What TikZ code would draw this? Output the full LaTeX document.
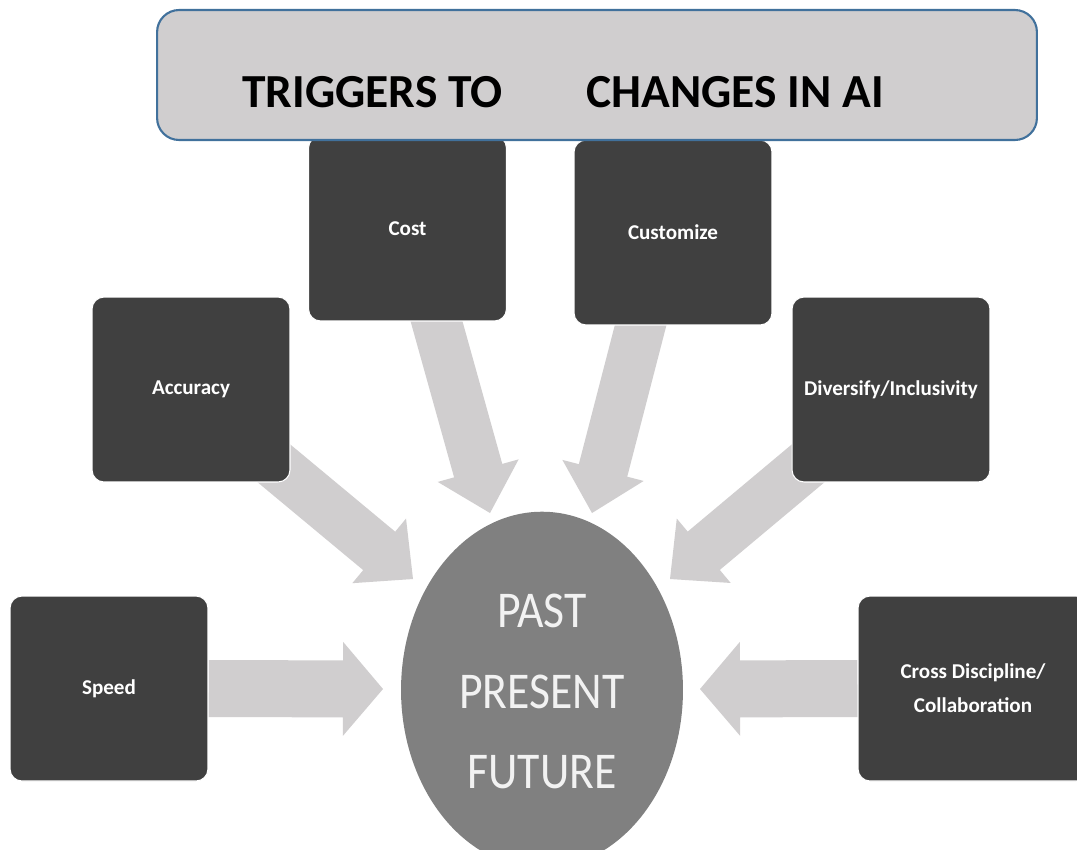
\documentclass[tikz,border=0pt]{standalone}
\usepackage{fontspec}
\setmainfont{Carlito}
\usetikzlibrary{calc,positioning,backgrounds,shapes.geometric}

\definecolor{boxgray}{HTML}{404040}
\definecolor{arrowgray}{HTML}{D0CECF}
\definecolor{coregray}{HTML}{808080}
\definecolor{titlefill}{HTML}{D0CECF}
\definecolor{titleblue}{HTML}{41719C}

\newcommand{\trigarrow}[5]{%
  \coordinate (hb) at ($(#5)!#3!(#4)$);
  \fill[arrowgray] ($(#4)!#1!90:(#5)$) -- ($(hb)!#1!90:(#5)$) -- ($(hb)!#2!90:(#5)$) -- (#5)
    -- ($(hb)!#2!-90:(#5)$) -- ($(hb)!#1!-90:(#5)$) -- ($(#4)!#1!-90:(#5)$) -- cycle;
}

\begin{document}
\begin{tikzpicture}[x=0.02cm, y=-0.02cm,
    trigger/.style={rectangle, rounded corners=0.24cm, fill=boxgray, draw=white, line width=0.6pt,
      minimum width=3.96cm, minimum height=3.7cm, inner sep=2pt, text=white, align=center,
      font=\fontsize{12}{19.4}\selectfont\bfseries},
    core/.style={ellipse, fill=coregray, minimum width=5.64cm, minimum height=6.72cm, inner sep=0pt,
      text=white!95!black, font=\fontsize{26}{46}\selectfont},
    titlebox/.style={rectangle, rounded corners=0.44cm, fill=titlefill, draw=titleblue, line width=1.2pt,
      minimum width=17.6cm, minimum height=2.6cm}]
  \useasboundingbox (0,0) rectangle (1077,849);

  \node[core] (core) at (542,690)
    {\scalebox{1}[1.13]{\begin{tabular}{@{}c@{}}PAST\\[-5.5pt]PRESENT\\[-5.5pt]FUTURE\end{tabular}}};

  \node[trigger] (cost) at (407.5,228.5) {Cost};
  \node[trigger] (customize) at (673,232.5) {Customize};
  \node[trigger] (accuracy) at (191,389.5) {Accuracy};
  \node[trigger] (diversify) at (891,389.5) {Diversify/Inclusivity};
  \node[trigger] (speed) at (109,688.5) {Speed};
  \node[trigger, minimum width=4.6cm] (cross) at (973,688.5) {Cross Discipline/\\Collaboration};

  \node[titlebox] (title) at (597,75) {};
  \node[font=\fontsize{27}{30}\selectfont\bfseries, anchor=base] (titletext) at (563,107)
    {TRIGGERS TO\hspace{47.8pt}CHANGES IN AI};

  \coordinate (saccuracy) at ($(accuracy.south east)+(-20,-22)$);
  \coordinate (scost) at ($(cost.south)+(23.5,-20)$);
  \coordinate (scustomize) at ($(customize.south)+(-26,-25)$);
  \coordinate (sdiversify) at ($(diversify.south west)+(20,-22)$);

  \coordinate (tspeed) at ($(core.center)+(-159,-1)$);
  \coordinate (taccuracy) at ($(core.center)+(-129,-111)$);
  \coordinate (tcost) at ($(core.center)+(-52,-177)$);
  \coordinate (tcustomize) at ($(core.center)+(50,-177)$);
  \coordinate (tdiversify) at ($(core.center)+(128,-111)$);
  \coordinate (tcross) at ($(core.center)+(158,-1)$);

  \begin{pgfonlayer}{background}
    \fill[white] (0,0) rectangle (1077,849);
    \trigarrow{0.57cm}{0.94cm}{0.8cm}{speed.east}{tspeed}
    \trigarrow{0.57cm}{0.94cm}{0.8cm}{cross.west}{tcross}
    \trigarrow{0.5cm}{0.84cm}{0.88cm}{saccuracy}{taccuracy}
    \trigarrow{0.5cm}{0.84cm}{0.88cm}{scost}{tcost}
    \trigarrow{0.5cm}{0.84cm}{0.88cm}{scustomize}{tcustomize}
    \trigarrow{0.5cm}{0.84cm}{0.88cm}{sdiversify}{tdiversify}
  \end{pgfonlayer}
\end{tikzpicture}
\end{document}
